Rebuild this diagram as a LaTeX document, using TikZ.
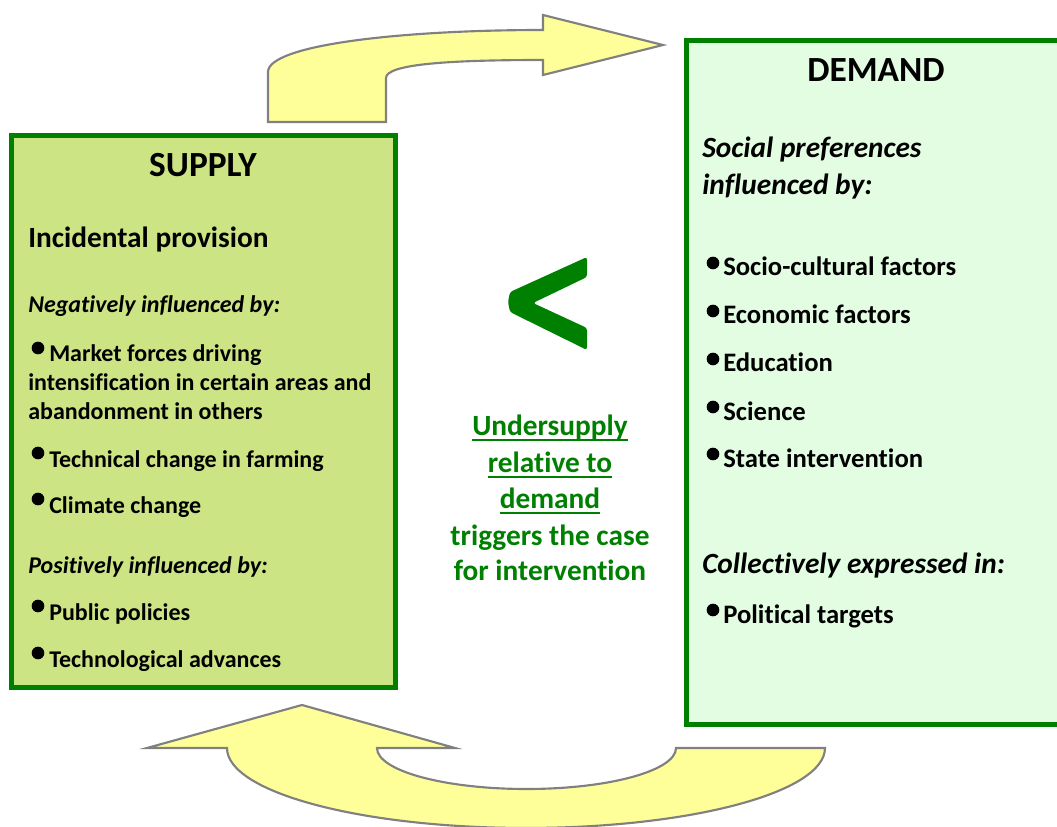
\documentclass[tikz,border=0pt]{standalone}
\usepackage{fontspec}
\setmainfont{Carlito}[Ligatures=CommonOff]
\definecolor{boxgreen}{RGB}{0,128,0}
\definecolor{supplyfill}{RGB}{205,228,132}
\definecolor{demandfill}{RGB}{227,253,227}
\definecolor{arrowfill}{RGB}{255,255,153}
\definecolor{arrowline}{RGB}{128,128,128}
\newcommand\myul[1]{\setbox0=\hbox{#1}\rlap{\rule[-4.2pt]{\wd0}{1.5pt}}\box0}
\tikzset{
  panel/.style={draw=boxgreen, line width=3.75pt},
  bigarrow/.style={fill=arrowfill, draw=arrowline, line width=1.6pt, line join=miter},
  txt/.style={anchor=base west, inner sep=0pt, font=\fontsize{18}{21}\selectfont\bfseries},
  dtxt/.style={txt, font=\fontsize{20}{24}\selectfont\bfseries},
  itxt/.style={txt, font=\fontsize{18}{21}\selectfont\bfseries\itshape},
  sub/.style={txt, font=\fontsize{22}{27}\selectfont\bfseries},
  isub/.style={txt, font=\fontsize{22}{27}\selectfont\bfseries\itshape},
  ttl/.style={anchor=base, inner sep=0pt, font=\fontsize{26.5}{31}\selectfont\bfseries},
  ctxt/.style={anchor=base, inner sep=0pt, text=boxgreen, font=\fontsize{22}{27}\selectfont\bfseries},
  bul/.style={circle, fill=black, inner sep=0pt, minimum size=9.5pt},
}
\begin{document}
\begin{tikzpicture}[x=0.75pt,y=-0.75pt]
\useasboundingbox (0,0) rectangle (1057,827);
\clip (0,0) rectangle (1057,827);

% top arrow
\draw[bigarrow] (268,122) -- (268,72) .. controls (268,45) and (400,30) .. (543,30)
  -- (543,15) -- (663,45) -- (543,75) -- (543,60)
  .. controls (450,60) and (386,64) .. (386,78) -- (386,122) -- cycle;
% bottom arrow
\draw[bigarrow] (147,748) -- (302,705) -- (455,748) -- (377,748)
  .. controls (377,770.6) and (443.9,789) .. (526.5,789)
  .. controls (609.1,789) and (676,770.6) .. (676,748)
  -- (825,748)
  .. controls (825,792.2) and (691.1,828) .. (526,828)
  .. controls (360.9,828) and (227,792.2) .. (227,748) -- cycle;

% panels
\draw[panel, fill=supplyfill] (11.5,135.5) rectangle (395.5,687.5);
\draw[panel, fill=demandfill] (686.5,40.5) rectangle (1075,724.5);

% less-than sign
\fill[boxgreen, rounded corners=2] (587,257) -- (510,292) -- (508,302) -- (510,312) -- (587,350)
  -- (587,328) -- (533,303) -- (587,277) -- cycle;

% supply text
\node[ttl] (st) at (203,177) {SUPPLY};
\node[sub] (s1) at (28,248) {Incidental provision};
\node[itxt] (s2) at (28,313) {Negatively influenced by:};
\node[bul] (b1) at (38,348) {};
\node[txt] (s3) at (49,362) {Market forces driving};
\node[txt] (s4) at (28,391) {intensification in certain areas and};
\node[txt] (s5) at (28,419) {abandonment in others};
\node[bul] (b2) at (38,453) {};
\node[txt] (s6) at (49,467) {Technical change in farming};
\node[bul] (b3) at (38,499) {};
\node[txt] (s7) at (49,513) {Climate change};
\node[itxt] (s8) at (28,573) {Positively influenced by:};
\node[bul] (b4) at (38,606) {};
\node[txt] (s9) at (49,620) {Public policies};
\node[bul] (b5) at (38,653) {};
\node[txt] (s10) at (49,667) {Technological advances};

% demand text
\node[ttl] (dt) at (876,82) {DEMAND};
\node[isub] (d1) at (702,158) {Social preferences};
\node[isub] (d2) at (702,195) {influenced by:};
\node[bul] (c1) at (713,263) {};
\node[dtxt] (d3) at (723,276) {Socio-cultural factors};
\node[bul] (c2) at (713,311) {};
\node[dtxt] (d4) at (723,324) {Economic factors};
\node[bul] (c3) at (713,359) {};
\node[dtxt] (d5) at (723,372) {Education};
\node[bul] (c4) at (713,407) {};
\node[dtxt] (d6) at (723,420) {Science};
\node[bul] (c5) at (713,454) {};
\node[dtxt] (d7) at (723,467) {State intervention};
\node[isub] (d8) at (702,573) {Collectively expressed in:};
\node[bul] (c6) at (713,610) {};
\node[dtxt] (d9) at (723,623) {Political targets};

% centre text
\node[ctxt] (m1) at (550,435) {\myul{Undersupply}};
\node[ctxt] (m2) at (550,472) {\myul{relative to}};
\node[ctxt] (m3) at (550,508) {\myul{demand}};
\node[ctxt] (m4) at (550,545) {triggers the case};
\node[ctxt] (m5) at (550,580) {for intervention};
\end{tikzpicture}
\end{document}
